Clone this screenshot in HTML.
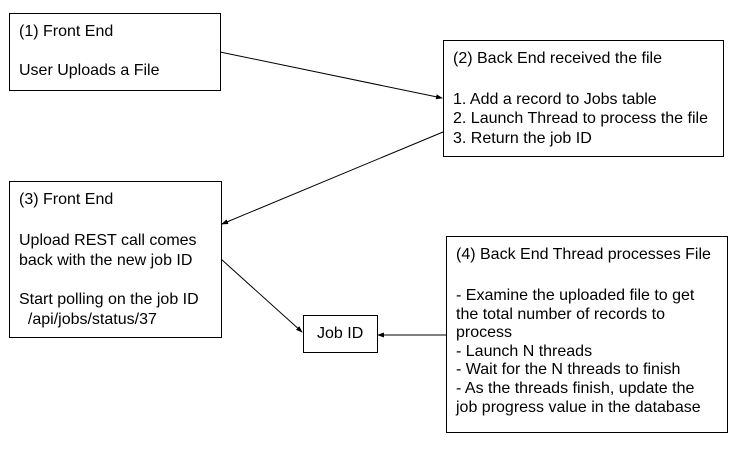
<!DOCTYPE html>
<html><head><meta charset="utf-8"><style>
body{margin:0;width:741px;height:451px;background:#fff;position:relative;overflow:hidden;font-family:"Liberation Sans",Arial,sans-serif;font-size:16px;color:#000}
.b{position:absolute;border:1px solid #000;box-sizing:border-box;background:#fff}
.t{position:absolute;white-space:pre;line-height:18px}
svg{position:absolute;left:0;top:0}
</style></head><body>
<svg width="741" height="451">
<defs><marker id="a" markerWidth="7" markerHeight="5" refX="6" refY="2.5" orient="auto"><path d="M0,0L7,2.5L0,5z" fill="#000"/></marker></defs>
<g stroke="#000" stroke-width="1" fill="none">
<line x1="220" y1="52" x2="442" y2="98" marker-end="url(#a)"/>
<line x1="443" y1="132" x2="222" y2="224" marker-end="url(#a)"/>
<line x1="221" y1="259" x2="302" y2="332" marker-end="url(#a)"/>
<line x1="446" y1="335" x2="378" y2="335" marker-end="url(#a)"/>
</g></svg>
<div class="b" style="left:9px;top:13px;width:212px;height:78px"></div>
<div class="b" style="left:443px;top:40px;width:281px;height:117px"></div>
<div class="b" style="left:9px;top:181px;width:213px;height:157px"></div>
<div class="b" style="left:446px;top:236px;width:282px;height:197px"></div>
<div class="b" style="left:303px;top:315px;width:75px;height:38px"></div>
<div class="t" style="left:19px;top:23px">(1) Front End</div>
<div class="t" style="left:19px;top:62px">User Uploads a File</div>
<div class="t" style="left:453px;top:50px">(2) Back End received the file</div>
<div class="t" style="left:453px;top:90px;line-height:19.3px">1. Add a record to Jobs table
2. Launch Thread to process the file
3. Return the job ID</div>
<div class="t" style="left:19px;top:191px">(3) Front End</div>
<div class="t" style="left:19px;top:231px;line-height:19.5px">Upload REST call comes
back with the new job ID</div>
<div class="t" style="left:19px;top:290px;line-height:19.5px">Start polling on the job ID
  /api/jobs/status/37</div>
<div class="t" style="left:317px;top:325px">Job ID</div>
<div class="t" style="left:456px;top:246px">(4) Back End Thread processes File</div>
<div class="t" style="left:456px;top:287px;line-height:18.6px">- Examine the uploaded file to get
the total number of records to
process
- Launch N threads
- Wait for the N threads to finish
- As the threads finish, update the
job progress value in the database</div>
</body></html>
